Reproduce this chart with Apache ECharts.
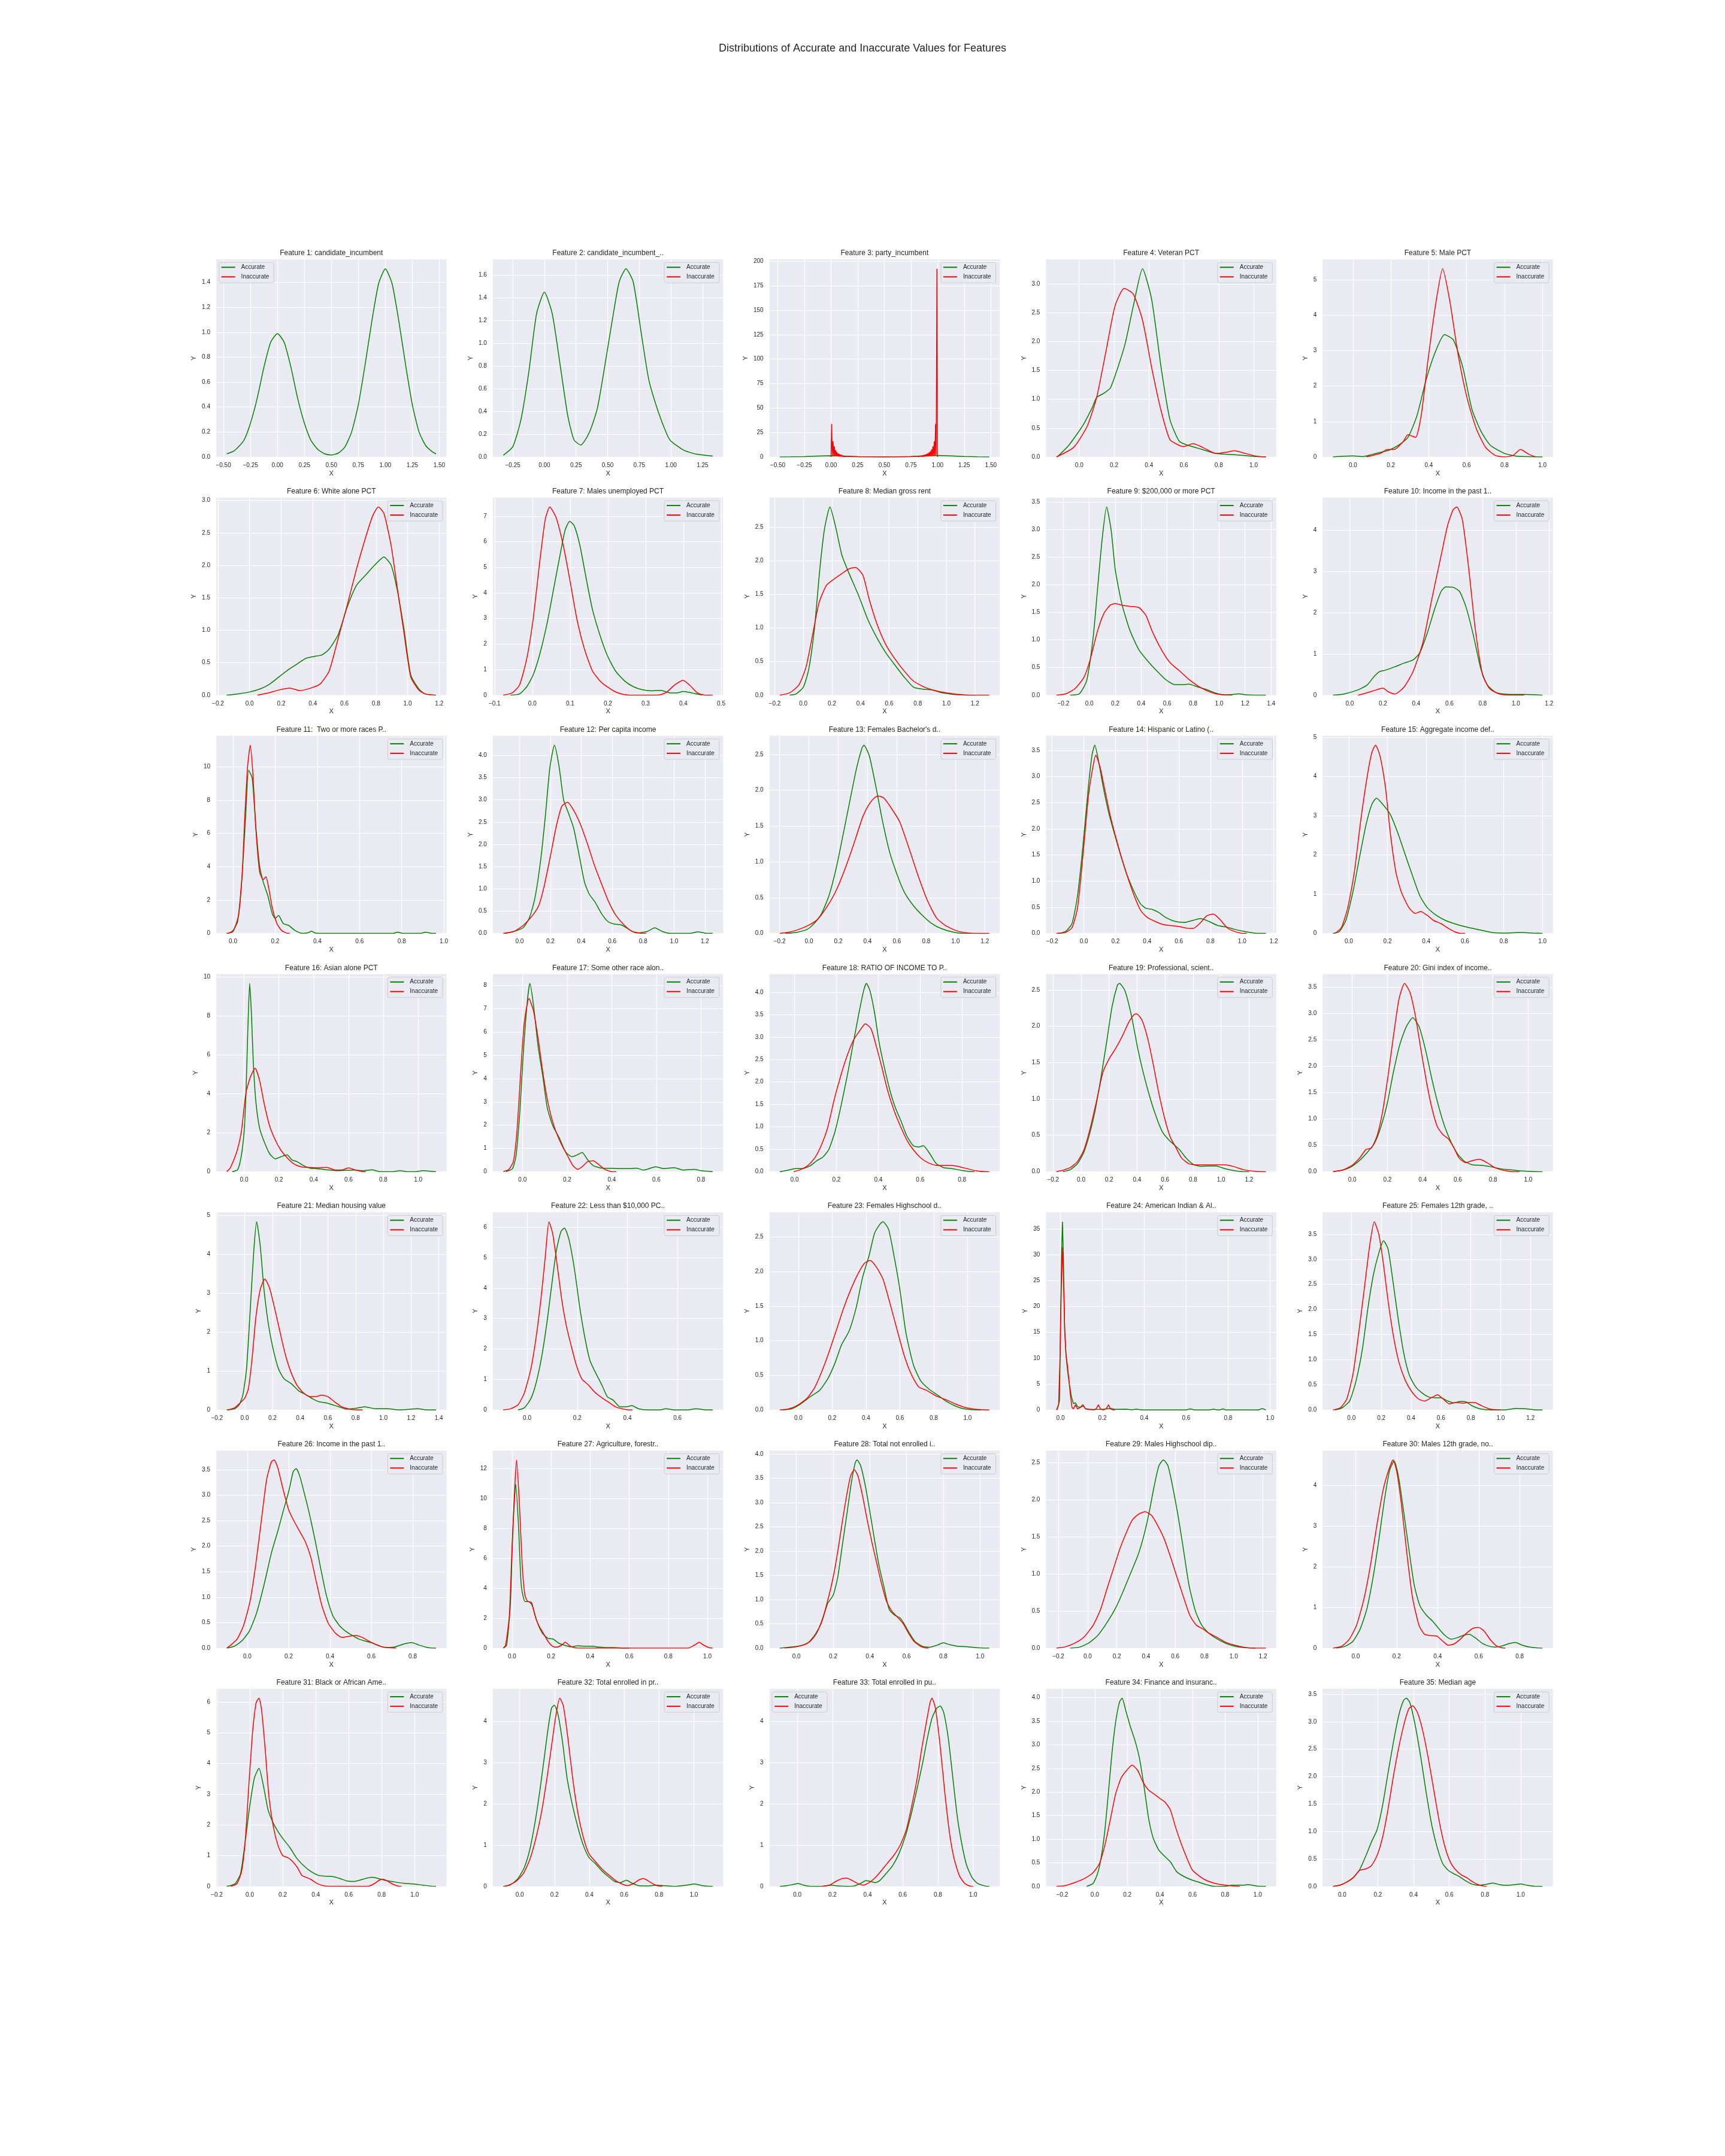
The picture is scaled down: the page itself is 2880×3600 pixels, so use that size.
<!DOCTYPE html>
<html><head><meta charset="utf-8">
<script src="https://cdn.jsdelivr.net/npm/echarts@6/dist/echarts.min.js"></script>
<style>html,body{margin:0;padding:0;background:#fff}#c{width:2880px;height:3600px}</style>
</head><body><div id="c"></div>
<script>
const suptitle = 'Distributions of Accurate and Inaccurate Values for Features';
const titles = [
 'Feature 1: candidate_incumbent','Feature 2: candidate_incumbent_..','Feature 3: party_incumbent','Feature 4: Veteran PCT','Feature 5: Male PCT',
 'Feature 6: White alone PCT','Feature 7: Males unemployed PCT','Feature 8: Median gross rent','Feature 9: $200,000 or more PCT','Feature 10: Income in the past 1..',
 'Feature 11:  Two or more races P..','Feature 12: Per capita income',"Feature 13: Females Bachelor's d..",'Feature 14: Hispanic or Latino (..','Feature 15: Aggregate income def..',
 'Feature 16: Asian alone PCT','Feature 17: Some other race alon..','Feature 18: RATIO OF INCOME TO P..','Feature 19: Professional, scient..','Feature 20: Gini index of income..',
 'Feature 21: Median housing value','Feature 22: Less than $10,000 PC..','Feature 23: Females Highschool d..','Feature 24: American Indian & Al..','Feature 25: Females 12th grade, ..',
 'Feature 26: Income in the past 1..','Feature 27: Agriculture, forestr..','Feature 28: Total not enrolled i..','Feature 29: Males Highschool dip..','Feature 30: Males 12th grade, no..',
 'Feature 31: Black or African Ame..','Feature 32: Total enrolled in pr..','Feature 33: Total enrolled in pu..','Feature 34: Finance and insuranc..','Feature 35: Median age'
];
const seriesNames = ['Accurate', 'Inaccurate'];
const legendUpperLeft = [1, 33];
const sharpPanels = [3, 24];

// ---------- density curves [x, y] ----------
const acc1 = [[-0.47,0.025],[-0.4,0.05],[-0.3125,0.13],[-0.25,0.27],[-0.1875,0.47],[-0.125,0.72],[-0.0625,0.92],[0,0.99],[0.0625,0.92],[0.125,0.72],[0.1875,0.47],[0.25,0.27],[0.3125,0.13],[0.375,0.06],[0.4375,0.025],[0.5,0.016],[0.5625,0.03],[0.625,0.08],[0.6875,0.2],[0.75,0.42],[0.8125,0.74],[0.875,1.09],[0.9375,1.39],[1.0,1.51],[1.0625,1.39],[1.125,1.09],[1.1875,0.74],[1.25,0.42],[1.3125,0.2],[1.375,0.09],[1.4375,0.04],[1.47,0.025]];
const inacc1 = [];
const acc2 = [[-0.325,0.015],[-0.25,0.09],[-0.185,0.33],[-0.123,0.75],[-0.062,1.26],[0,1.45],[0.062,1.26],[0.123,0.82],[0.185,0.36],[0.234,0.15],[0.288,0.105],[0.357,0.22],[0.419,0.43],[0.48,0.82],[0.542,1.24],[0.591,1.54],[0.645,1.656],[0.702,1.54],[0.764,1.1],[0.825,0.68],[0.899,0.4],[0.968,0.2],[1.0,0.14],[1.1,0.06],[1.2,0.025],[1.33,0.008]];
const inacc2 = [];
const acc3 = [[-0.48,0.03],[-0.375,0.1],[-0.25,0.32],[-0.125,0.86],[0,1.2],[0.125,0.86],[0.25,0.32],[0.375,0.08],[0.5,0.02],[0.625,0.08],[0.75,0.42],[0.875,1.09],[1.0,1.51],[1.125,1.09],[1.25,0.42],[1.375,0.09],[1.485,0.025]];
const inacc3 = [[0,0],[0.0056,33.8],[0.0125,1],[0.019,16],[0.025,1],[0.031,11],[0.037,1],[0.044,7],[0.05,0.8],[0.056,5],[0.062,0.6],[0.069,3.6],[0.075,0.5],[0.081,2.8],[0.087,0.4],[0.094,2.2],[0.1,0.4],[0.106,1.8],[0.112,0.3],[0.119,1.4],[0.125,0.3],[0.131,1.1],[0.137,0.3],[0.15,0.8],[0.162,0.25],[0.175,0.6],[0.2,0.3],[0.23,0.3],[0.3,0.15],[0.4,0.08],[0.5,0.06],[0.6,0.1],[0.7,0.2],[0.75,0.35],[0.79,0.6],[0.8,0.15],[0.81,0.8],[0.825,0.2],[0.838,1.1],[0.85,0.25],[0.856,1.6],[0.863,0.3],[0.869,2.0],[0.875,0.35],[0.881,2.4],[0.887,0.4],[0.894,3],[0.9,0.5],[0.906,3.6],[0.912,0.6],[0.919,4.5],[0.925,0.7],[0.931,5.8],[0.937,0.8],[0.944,7.7],[0.95,1],[0.956,11],[0.962,1],[0.969,16],[0.975,1.5],[0.981,33.8],[0.987,2],[0.994,192.5],[1.0,0]];
const acc4 = [[-0.126,0],[-0.06,0.2],[0.02,0.54],[0.074,0.85],[0.1,1.03],[0.14,1.1],[0.18,1.2],[0.26,1.92],[0.31,2.61],[0.363,3.26],[0.416,2.72],[0.47,1.54],[0.52,0.65],[0.574,0.27],[0.626,0.2],[0.705,0.13],[0.784,0.06],[0.89,0.04],[1.0,0.01],[1.07,0]];
const inacc4 = [[-0.13,0],[-0.03,0.17],[0.047,0.54],[0.1,1.03],[0.153,1.82],[0.205,2.61],[0.258,2.92],[0.31,2.82],[0.363,2.37],[0.416,1.54],[0.468,0.82],[0.52,0.3],[0.574,0.2],[0.6,0.18],[0.653,0.23],[0.705,0.17],[0.784,0.06],[0.84,0.08],[0.89,0.11],[0.94,0.07],[1.02,0.01],[1.07,0]];
const acc5 = [[-0.105,0],[-0.05,0.02],[0,0.03],[0.05,0.01],[0.1,0.07],[0.145,0.13],[0.19,0.19],[0.24,0.33],[0.29,0.55],[0.338,1.17],[0.386,2.18],[0.435,2.97],[0.483,3.45],[0.53,3.3],[0.58,2.52],[0.628,1.34],[0.676,0.72],[0.725,0.33],[0.8,0.1],[0.87,0.02],[1.0,0]];
const inacc5 = [[0.07,0],[0.145,0.1],[0.18,0.21],[0.217,0.21],[0.266,0.44],[0.29,0.63],[0.33,0.55],[0.36,1.17],[0.396,2.74],[0.435,4.26],[0.473,5.31],[0.51,4.43],[0.556,2.85],[0.604,1.62],[0.652,0.78],[0.7,0.27],[0.75,0.045],[0.8,0],[0.845,0.045],[0.884,0.21],[0.93,0.07],[0.966,0]];
const acc6 = [[-0.145,0],[-0.075,0.02],[0,0.05],[0.07,0.1],[0.127,0.17],[0.185,0.28],[0.243,0.39],[0.3,0.48],[0.358,0.57],[0.416,0.6],[0.457,0.62],[0.5,0.7],[0.56,0.93],[0.618,1.36],[0.676,1.69],[0.734,1.85],[0.79,2.0],[0.85,2.13],[0.896,2.0],[0.936,1.6],[0.977,1.02],[1.02,0.31],[1.07,0.1],[1.11,0.02],[1.18,0]];
const inacc6 = [[0.05,0],[0.127,0.04],[0.185,0.08],[0.254,0.11],[0.318,0.07],[0.387,0.11],[0.445,0.17],[0.503,0.37],[0.56,0.87],[0.618,1.39],[0.676,1.94],[0.734,2.43],[0.78,2.77],[0.815,2.9],[0.85,2.8],[0.896,2.3],[0.936,1.63],[0.977,0.96],[1.02,0.28],[1.07,0.08],[1.11,0.02],[1.17,0]];
const acc7 = [[-0.058,0],[-0.034,0.05],[-0.015,0.33],[0.002,0.79],[0.019,1.57],[0.039,2.81],[0.058,4.29],[0.075,5.61],[0.087,6.47],[0.099,6.8],[0.111,6.62],[0.126,5.85],[0.143,4.53],[0.159,3.36],[0.179,2.35],[0.198,1.57],[0.22,0.95],[0.244,0.56],[0.268,0.33],[0.292,0.21],[0.316,0.17],[0.34,0.19],[0.365,0.09],[0.382,0.09],[0.4,0.15],[0.425,0.08],[0.45,0.01],[0.47,0]];
const inacc7 = [[-0.077,0],[-0.053,0.09],[-0.034,0.4],[-0.015,1.42],[0.002,2.97],[0.019,5.15],[0.034,6.86],[0.046,7.36],[0.063,6.94],[0.082,5.85],[0.099,4.53],[0.118,2.97],[0.138,1.8],[0.159,0.95],[0.179,0.56],[0.198,0.33],[0.22,0.13],[0.244,0.02],[0.28,0],[0.33,0],[0.353,0.09],[0.377,0.4],[0.399,0.58],[0.418,0.37],[0.437,0.09],[0.454,0.01],[0.4775,0]];
const acc8 = [[-0.096,0],[-0.05,0.02],[0,0.12],[0.038,0.39],[0.077,0.98],[0.115,1.87],[0.147,2.46],[0.186,2.8],[0.224,2.52],[0.27,2.08],[0.32,1.81],[0.385,1.49],[0.45,1.13],[0.513,0.86],[0.577,0.63],[0.64,0.45],[0.705,0.27],[0.77,0.12],[0.833,0.09],[0.897,0.08],[0.96,0.04],[1.06,0.01],[1.15,0],[1.2,0]];
const inacc8 = [[-0.164,0],[-0.096,0.035],[-0.032,0.15],[0.019,0.42],[0.064,0.89],[0.109,1.37],[0.16,1.63],[0.21,1.72],[0.27,1.81],[0.32,1.88],[0.365,1.9],[0.417,1.78],[0.46,1.43],[0.513,1.07],[0.577,0.75],[0.64,0.54],[0.705,0.36],[0.77,0.21],[0.846,0.12],[0.93,0.065],[1.026,0.027],[1.12,0.006],[1.22,0],[1.3,0]];
const acc9 = [[-0.147,0],[-0.077,0.025],[-0.021,0.26],[0.028,1.01],[0.063,1.91],[0.098,2.81],[0.133,3.41],[0.168,2.99],[0.2,2.27],[0.25,1.66],[0.31,1.19],[0.38,0.83],[0.45,0.62],[0.52,0.44],[0.59,0.28],[0.66,0.19],[0.73,0.19],[0.765,0.2],[0.835,0.15],[0.905,0.1],[0.975,0.036],[1.046,0.007],[1.1,0.012],[1.15,0.025],[1.21,0.007],[1.36,0]];
const inacc9 = [[-0.253,0],[-0.18,0.025],[-0.11,0.12],[-0.04,0.33],[0.007,0.65],[0.063,1.16],[0.112,1.48],[0.16,1.63],[0.2,1.66],[0.25,1.63],[0.31,1.61],[0.38,1.59],[0.435,1.45],[0.484,1.16],[0.554,0.83],[0.625,0.58],[0.695,0.44],[0.765,0.29],[0.835,0.17],[0.905,0.08],[0.975,0.025],[1.08,0],[1.1,0]];
const acc10 = [[-0.1,0],[-0.033,0.03],[0.05,0.13],[0.106,0.25],[0.144,0.44],[0.178,0.57],[0.217,0.61],[0.272,0.69],[0.328,0.78],[0.383,0.86],[0.422,1.03],[0.467,1.51],[0.511,2.09],[0.55,2.52],[0.578,2.63],[0.622,2.62],[0.661,2.52],[0.7,2.14],[0.744,1.46],[0.789,0.64],[0.828,0.25],[0.883,0.06],[0.967,0.02],[1.05,0.02],[1.16,0]];
const inacc10 = [[0.05,0],[0.106,0.06],[0.161,0.13],[0.2,0.17],[0.233,0.08],[0.272,0.03],[0.328,0.2],[0.383,0.59],[0.44,1.27],[0.494,2.33],[0.55,3.39],[0.589,4.12],[0.622,4.5],[0.644,4.57],[0.678,4.26],[0.717,3.05],[0.756,1.6],[0.8,0.49],[0.844,0.15],[0.91,0.02],[1.02,0],[1.05,0]];
const acc11 = [[-0.022,0],[0,0.18],[0.022,0.72],[0.043,3.46],[0.06,7.05],[0.074,9.8],[0.091,9.32],[0.108,6.45],[0.126,4.06],[0.143,3.1],[0.165,2.27],[0.186,1.19],[0.2,0.9],[0.216,1.08],[0.238,0.6],[0.264,0.48],[0.294,0.18],[0.33,0],[0.36,0.06],[0.372,0.14],[0.39,0.02],[0.446,0],[0.76,0],[0.78,0.08],[0.805,0],[0.89,0],[0.913,0.08],[0.944,0],[0.963,0]];
const inacc11 = [[-0.03,0],[0,0.12],[0.026,1.08],[0.043,3.46],[0.056,7.05],[0.069,10.0],[0.082,11.3],[0.095,9.44],[0.108,6.33],[0.126,3.7],[0.143,3.23],[0.156,3.4],[0.169,2.75],[0.186,1.55],[0.208,0.6],[0.23,0.18],[0.26,0],[0.27,0]];
const acc12 = [[-0.095,0],[-0.036,0.045],[0.024,0.13],[0.065,0.36],[0.1,0.8],[0.137,1.65],[0.167,2.63],[0.196,3.71],[0.226,4.23],[0.256,3.75],[0.286,2.99],[0.315,2.72],[0.35,2.37],[0.387,1.74],[0.42,1.16],[0.45,0.89],[0.488,0.71],[0.53,0.45],[0.571,0.27],[0.613,0.21],[0.66,0.19],[0.708,0.09],[0.756,0.01],[0.827,0.045],[0.875,0.125],[0.923,0.045],[0.976,0],[1.1,0],[1.155,0.035],[1.214,0],[1.25,0]];
const inacc12 = [[-0.105,0],[-0.036,0.045],[0.024,0.18],[0.083,0.4],[0.125,0.63],[0.16,1.07],[0.2,1.74],[0.238,2.41],[0.274,2.86],[0.31,2.95],[0.35,2.77],[0.393,2.46],[0.44,2.01],[0.482,1.56],[0.53,1.12],[0.577,0.71],[0.625,0.4],[0.68,0.18],[0.726,0.05],[0.8,0],[0.82,0]];
const acc13 = [[-0.162,0],[-0.087,0.014],[-0.012,0.056],[0.037,0.14],[0.087,0.28],[0.137,0.53],[0.187,0.92],[0.237,1.42],[0.28,1.86],[0.325,2.31],[0.362,2.59],[0.375,2.63],[0.412,2.48],[0.456,2.06],[0.5,1.59],[0.55,1.14],[0.6,0.83],[0.65,0.58],[0.712,0.39],[0.775,0.25],[0.837,0.14],[0.9,0.07],[0.994,0.014],[1.087,0],[1.1,0]];
const inacc13 = [[-0.198,0],[-0.131,0.02],[-0.069,0.056],[-0.006,0.11],[0.056,0.19],[0.119,0.36],[0.181,0.58],[0.244,0.89],[0.306,1.25],[0.369,1.64],[0.412,1.81],[0.45,1.9],[0.475,1.92],[0.512,1.89],[0.562,1.75],[0.619,1.56],[0.681,1.2],[0.744,0.81],[0.806,0.47],[0.869,0.22],[0.931,0.11],[1.012,0.033],[1.087,0.006],[1.18,0],[1.23,0]];
const acc14 = [[-0.16,0],[-0.115,0.04],[-0.075,0.19],[-0.04,0.72],[-0.006,1.67],[0.029,2.82],[0.052,3.42],[0.069,3.6],[0.092,3.31],[0.121,2.82],[0.156,2.32],[0.19,1.94],[0.23,1.52],[0.27,1.14],[0.317,0.8],[0.357,0.57],[0.392,0.48],[0.432,0.46],[0.473,0.4],[0.52,0.3],[0.576,0.23],[0.634,0.21],[0.69,0.25],[0.738,0.285],[0.79,0.23],[0.847,0.15],[0.905,0.12],[0.95,0.08],[1.01,0.04],[1.095,0],[1.15,0]];
const inacc14 = [[-0.173,0],[-0.115,0.02],[-0.075,0.11],[-0.04,0.49],[-0.006,1.48],[0.029,2.63],[0.058,3.2],[0.075,3.41],[0.104,3.16],[0.133,2.74],[0.167,2.25],[0.2,1.86],[0.242,1.41],[0.282,1.03],[0.323,0.68],[0.363,0.42],[0.403,0.3],[0.45,0.23],[0.5,0.17],[0.548,0.15],[0.605,0.13],[0.651,0.1],[0.69,0.095],[0.732,0.19],[0.778,0.34],[0.818,0.37],[0.859,0.27],[0.905,0.11],[0.95,0.04],[1.01,0],[1.03,0]];
const acc15 = [[-0.081,0],[-0.048,0.05],[-0.014,0.35],[0.024,1.12],[0.057,1.98],[0.09,2.79],[0.119,3.29],[0.143,3.45],[0.176,3.29],[0.214,3.04],[0.252,2.58],[0.29,2.03],[0.329,1.47],[0.367,0.96],[0.405,0.66],[0.452,0.46],[0.5,0.33],[0.557,0.23],[0.619,0.15],[0.681,0.086],[0.738,0.025],[0.81,0.01],[0.89,0.025],[0.952,0.01],[1.0,0]];
const inacc15 = [[-0.071,0],[-0.038,0.15],[-0.005,0.66],[0.029,1.57],[0.062,2.89],[0.095,4.0],[0.119,4.61],[0.138,4.8],[0.162,4.51],[0.19,3.7],[0.214,2.58],[0.243,1.57],[0.271,1.06],[0.31,0.66],[0.343,0.51],[0.371,0.56],[0.405,0.46],[0.438,0.33],[0.476,0.25],[0.514,0.13],[0.548,0.04],[0.581,0],[0.6,0]];
const acc16 = [[-0.068,0],[-0.037,0.1],[-0.016,0.82],[0,2.04],[0.011,4.08],[0.021,7.14],[0.032,9.68],[0.042,8.15],[0.053,5.6],[0.068,3.57],[0.089,2.24],[0.116,1.53],[0.147,0.92],[0.179,0.66],[0.21,0.76],[0.247,0.87],[0.274,0.61],[0.305,0.51],[0.342,0.31],[0.379,0.18],[0.421,0.15],[0.474,0.1],[0.526,0.05],[0.579,0.07],[0.632,0.08],[0.684,0.05],[0.737,0.1],[0.779,0],[0.86,0],[0.895,0.05],[0.932,0],[0.99,0],[1.026,0.05],[1.095,0],[1.103,0]];
const inacc16 = [[-0.1,0],[-0.079,0.2],[-0.042,1.02],[-0.016,2.04],[0.011,4.08],[0.037,4.89],[0.063,5.32],[0.089,4.69],[0.116,3.47],[0.147,2.34],[0.179,1.63],[0.21,1.12],[0.247,0.71],[0.284,0.41],[0.326,0.25],[0.368,0.22],[0.421,0.2],[0.474,0.22],[0.526,0.08],[0.568,0.1],[0.6,0.2],[0.642,0.08],[0.684,0],[0.7,0]];
const acc17 = [[-0.074,0],[-0.045,0.13],[-0.029,0.68],[-0.012,2.56],[0.004,5.13],[0.021,7.26],[0.033,8.09],[0.049,7.18],[0.07,5.38],[0.091,4.1],[0.111,2.74],[0.136,1.97],[0.165,1.45],[0.193,0.85],[0.222,0.64],[0.247,0.73],[0.267,0.83],[0.292,0.51],[0.317,0.26],[0.358,0.15],[0.4,0.145],[0.44,0.13],[0.481,0.13],[0.51,0.15],[0.543,0.07],[0.597,0.21],[0.634,0.13],[0.679,0.17],[0.72,0.07],[0.77,0.1],[0.8,0.04],[0.852,0]];
const inacc17 = [[-0.086,0],[-0.062,0.09],[-0.041,0.43],[-0.025,1.71],[-0.008,4.27],[0.008,6.41],[0.029,7.44],[0.049,6.92],[0.07,5.73],[0.095,4.02],[0.119,2.74],[0.144,1.88],[0.173,1.2],[0.202,0.68],[0.226,0.26],[0.247,0.1],[0.267,0.21],[0.292,0.43],[0.317,0.47],[0.342,0.3],[0.37,0.09],[0.4,0],[0.42,0]];
const acc18 = [[-0.07,0],[-0.035,0.03],[0.004,0.07],[0.04,0.07],[0.075,0.13],[0.105,0.24],[0.136,0.33],[0.163,0.49],[0.193,0.89],[0.224,1.51],[0.255,2.22],[0.281,2.88],[0.308,3.55],[0.33,4.04],[0.343,4.2],[0.36,4.04],[0.382,3.55],[0.404,2.88],[0.426,2.39],[0.453,1.86],[0.479,1.46],[0.51,1.11],[0.536,0.8],[0.567,0.58],[0.593,0.55],[0.615,0.58],[0.646,0.4],[0.677,0.18],[0.712,0.09],[0.752,0.07],[0.796,0.03],[0.853,0],[0.86,0]];
const inacc18 = [[-0.004,0],[0.026,0.04],[0.062,0.13],[0.097,0.31],[0.127,0.58],[0.158,0.98],[0.189,1.6],[0.22,2.13],[0.25,2.57],[0.281,2.93],[0.312,3.15],[0.338,3.3],[0.365,3.19],[0.391,2.79],[0.418,2.31],[0.444,1.82],[0.475,1.37],[0.505,1.02],[0.536,0.71],[0.567,0.49],[0.602,0.31],[0.637,0.2],[0.677,0.14],[0.712,0.14],[0.752,0.14],[0.787,0.11],[0.822,0.07],[0.866,0.02],[0.92,0],[0.93,0]];
const acc19 = [[-0.13,0],[-0.078,0.027],[-0.026,0.11],[0.02,0.27],[0.065,0.55],[0.104,0.88],[0.143,1.31],[0.182,1.78],[0.221,2.27],[0.26,2.57],[0.274,2.59],[0.313,2.49],[0.358,2.16],[0.404,1.7],[0.443,1.37],[0.489,1.04],[0.534,0.77],[0.58,0.55],[0.625,0.44],[0.671,0.36],[0.704,0.3],[0.749,0.19],[0.801,0.1],[0.853,0.074],[0.912,0.077],[0.964,0.077],[1.029,0.04],[1.094,0.014],[1.16,0],[1.2,0]];
const inacc19 = [[-0.176,0],[-0.13,0.02],[-0.078,0.055],[-0.026,0.14],[0.02,0.3],[0.065,0.6],[0.111,0.98],[0.156,1.37],[0.202,1.56],[0.248,1.7],[0.293,1.86],[0.339,2.05],[0.378,2.16],[0.397,2.17],[0.436,2.08],[0.476,1.83],[0.515,1.48],[0.554,1.09],[0.6,0.71],[0.638,0.47],[0.678,0.33],[0.717,0.19],[0.769,0.11],[0.821,0.093],[0.886,0.093],[0.964,0.093],[1.029,0.093],[1.094,0.068],[1.16,0.027],[1.225,0.008],[1.31,0],[1.32,0]];
const acc20 = [[-0.109,0],[-0.057,0.026],[-0.005,0.094],[0.047,0.23],[0.089,0.38],[0.125,0.53],[0.161,0.83],[0.198,1.28],[0.234,1.89],[0.271,2.42],[0.307,2.75],[0.344,2.92],[0.38,2.75],[0.417,2.3],[0.453,1.75],[0.49,1.25],[0.526,0.85],[0.563,0.55],[0.6,0.33],[0.64,0.19],[0.682,0.13],[0.734,0.12],[0.786,0.094],[0.839,0.057],[0.89,0.038],[0.943,0.019],[0.995,0.008],[1.07,0],[1.081,0]];
const inacc20 = [[-0.109,0],[-0.057,0.03],[-0.005,0.11],[0.042,0.26],[0.078,0.42],[0.109,0.45],[0.141,0.68],[0.172,1.13],[0.203,1.81],[0.234,2.57],[0.266,3.28],[0.297,3.57],[0.328,3.4],[0.359,2.95],[0.391,2.3],[0.422,1.7],[0.453,1.2],[0.484,0.85],[0.516,0.7],[0.547,0.62],[0.578,0.45],[0.609,0.25],[0.646,0.17],[0.682,0.21],[0.724,0.234],[0.766,0.17],[0.807,0.083],[0.854,0.03],[0.917,0],[0.95,0]];
const acc21 = [[-0.13,0],[-0.073,0.03],[-0.04,0.13],[-0.013,0.39],[0.013,1.05],[0.04,2.58],[0.066,4.11],[0.086,4.83],[0.112,4.21],[0.139,3.09],[0.172,2.17],[0.205,1.56],[0.244,1.05],[0.284,0.8],[0.337,0.67],[0.389,0.49],[0.442,0.39],[0.488,0.29],[0.535,0.21],[0.587,0.18],[0.634,0.13],[0.68,0.08],[0.733,0.02],[0.8,0.04],[0.865,0.08],[0.944,0.03],[1.03,0.03],[1.115,0],[1.25,0.03],[1.313,0],[1.38,0]];
const inacc21 = [[-0.125,0],[-0.073,0.056],[-0.033,0.18],[0,0.3],[0.026,0.54],[0.053,1.31],[0.079,2.33],[0.112,3.09],[0.145,3.36],[0.178,3.14],[0.211,2.68],[0.25,2.07],[0.29,1.46],[0.33,1.0],[0.376,0.64],[0.422,0.44],[0.469,0.34],[0.515,0.34],[0.554,0.38],[0.6,0.34],[0.647,0.21],[0.7,0.08],[0.766,0.015],[0.832,0],[0.85,0]];
const acc22 = [[-0.036,0],[-0.011,0.07],[0.015,0.37],[0.036,0.89],[0.058,1.74],[0.08,2.92],[0.098,4.09],[0.116,5.2],[0.135,5.86],[0.149,5.97],[0.167,5.59],[0.189,4.61],[0.211,3.31],[0.233,2.26],[0.251,1.61],[0.273,1.22],[0.298,0.82],[0.32,0.43],[0.342,0.33],[0.371,0.1],[0.396,0.1],[0.418,0.14],[0.444,0.04],[0.48,0],[0.53,0],[0.553,0.04],[0.589,0],[0.64,0],[0.673,0.04],[0.716,0],[0.74,0]];
const inacc22 = [[-0.095,0],[-0.065,0.04],[-0.036,0.17],[-0.011,0.56],[0.015,1.35],[0.036,2.39],[0.055,3.63],[0.073,5.07],[0.087,6.18],[0.102,5.79],[0.12,4.75],[0.138,3.63],[0.156,2.78],[0.175,2.13],[0.196,1.48],[0.218,1.02],[0.244,0.82],[0.269,0.59],[0.298,0.4],[0.327,0.24],[0.353,0.1],[0.378,0.04],[0.407,0],[0.42,0]];
const acc23 = [[-0.092,0],[-0.038,0.017],[0.016,0.09],[0.07,0.19],[0.125,0.28],[0.174,0.45],[0.217,0.68],[0.255,0.94],[0.3,1.14],[0.342,1.48],[0.38,1.92],[0.418,2.23],[0.45,2.55],[0.484,2.69],[0.5,2.72],[0.533,2.61],[0.565,2.23],[0.598,1.77],[0.636,1.11],[0.68,0.65],[0.723,0.42],[0.772,0.3],[0.82,0.22],[0.87,0.13],[0.924,0.06],[0.978,0.017],[1.06,0],[1.08,0]];
const inacc23 = [[-0.109,0],[-0.054,0.017],[0,0.075],[0.054,0.175],[0.098,0.33],[0.136,0.54],[0.179,0.82],[0.223,1.14],[0.266,1.46],[0.31,1.74],[0.353,1.97],[0.391,2.12],[0.424,2.16],[0.462,2.06],[0.5,1.89],[0.538,1.57],[0.582,1.17],[0.625,0.79],[0.668,0.51],[0.712,0.33],[0.76,0.28],[0.815,0.2],[0.87,0.15],[0.924,0.09],[0.978,0.04],[1.043,0.01],[1.114,0],[1.128,0]];
const acc24 = [[-0.016,0],[-0.004,1.8],[0,16],[0.005,29.5],[0.0095,36.4],[0.014,29.5],[0.02,15.3],[0.028,9.9],[0.035,7.2],[0.043,4.9],[0.052,2.6],[0.062,1.2],[0.071,1.4],[0.081,0.65],[0.095,0.46],[0.108,0.77],[0.119,0.27],[0.138,0.15],[0.157,0.08],[0.2,0.1],[0.243,0.27],[0.26,0.1],[0.314,0.15],[0.34,0.02],[0.362,0.15],[0.39,0],[0.6,0],[0.619,0.2],[0.64,0],[0.71,0],[0.73,0.15],[0.75,0],[0.76,0],[0.775,0.2],[0.79,0],[0.945,0],[0.963,0.27],[0.98,0]];
const inacc24 = [[-0.019,0],[-0.009,1.0],[-0.002,10.3],[0.004,23.7],[0.009,31.5],[0.014,25.7],[0.02,16],[0.026,10.7],[0.033,8.7],[0.04,6.0],[0.047,3.0],[0.055,0.46],[0.062,0.2],[0.071,1.0],[0.081,0.2],[0.09,0.35],[0.107,1.0],[0.119,0.2],[0.133,0.08],[0.162,0],[0.171,0.27],[0.181,1.0],[0.19,0.2],[0.205,0],[0.219,0.27],[0.229,1.0],[0.238,0.2],[0.252,0],[0.26,0]];
const acc25 = [[-0.11,0],[-0.061,0.044],[-0.012,0.18],[0.031,0.58],[0.074,1.22],[0.11,2.02],[0.147,2.69],[0.184,3.13],[0.215,3.37],[0.245,3.21],[0.276,2.61],[0.313,1.82],[0.35,1.14],[0.387,0.7],[0.43,0.46],[0.472,0.34],[0.515,0.26],[0.564,0.24],[0.6,0.24],[0.644,0.18],[0.687,0.14],[0.73,0.17],[0.767,0.16],[0.81,0.08],[0.859,0.024],[0.933,0],[1.025,0],[1.104,0.03],[1.166,0.024],[1.24,0],[1.28,0]];
const inacc25 = [[-0.123,0],[-0.074,0.044],[-0.031,0.22],[0.012,0.74],[0.049,1.54],[0.086,2.41],[0.123,3.29],[0.153,3.75],[0.184,3.49],[0.215,2.89],[0.245,2.18],[0.282,1.46],[0.319,0.94],[0.362,0.58],[0.405,0.36],[0.448,0.22],[0.49,0.175],[0.534,0.24],[0.577,0.3],[0.613,0.22],[0.656,0.12],[0.7,0.15],[0.748,0.135],[0.79,0.15],[0.828,0.145],[0.871,0.084],[0.92,0.024],[0.98,0],[1.0,0]];
const acc26 = [[-0.098,0],[-0.062,0.04],[-0.027,0.14],[0.009,0.33],[0.044,0.68],[0.08,1.23],[0.116,1.86],[0.147,2.29],[0.173,2.68],[0.2,3.07],[0.222,3.46],[0.236,3.52],[0.253,3.38],[0.276,3.03],[0.302,2.6],[0.329,2.09],[0.356,1.54],[0.382,1.04],[0.413,0.64],[0.444,0.45],[0.476,0.33],[0.507,0.25],[0.538,0.18],[0.569,0.14],[0.604,0.1],[0.64,0.04],[0.676,0.012],[0.716,0.027],[0.76,0.086],[0.796,0.11],[0.831,0.06],[0.871,0.012],[0.907,0],[0.913,0]];
const inacc26 = [[-0.1,0],[-0.08,0.06],[-0.049,0.18],[-0.018,0.45],[0.013,0.92],[0.04,1.62],[0.067,2.48],[0.093,3.3],[0.116,3.65],[0.129,3.69],[0.147,3.54],[0.173,3.11],[0.2,2.71],[0.227,2.48],[0.253,2.29],[0.28,2.09],[0.307,1.78],[0.333,1.31],[0.36,0.84],[0.391,0.49],[0.427,0.29],[0.458,0.21],[0.489,0.23],[0.524,0.25],[0.556,0.21],[0.587,0.14],[0.618,0.08],[0.649,0.03],[0.684,0.008],[0.72,0]];
const acc27 = [[-0.045,0],[-0.028,0.2],[-0.009,2.86],[0.005,8.18],[0.019,10.97],[0.033,8.18],[0.047,4.19],[0.066,3.12],[0.085,3.12],[0.103,2.86],[0.127,1.8],[0.155,1.0],[0.183,0.66],[0.211,0.6],[0.239,0.33],[0.268,0.2],[0.3,0.09],[0.338,0.16],[0.371,0.13],[0.408,0.13],[0.446,0.07],[0.488,0.04],[0.526,0.04],[0.573,0],[0.6,0]];
const inacc27 = [[-0.045,0],[-0.033,0.2],[-0.014,2.19],[0,6.85],[0.014,10.84],[0.023,12.6],[0.038,9.51],[0.052,5.52],[0.066,3.52],[0.08,3.12],[0.099,3.06],[0.117,2.19],[0.136,1.53],[0.16,1.0],[0.183,0.47],[0.207,0.13],[0.23,0.07],[0.254,0.2],[0.272,0.4],[0.291,0.2],[0.315,0.04],[0.347,0],[0.901,0],[0.934,0.2],[0.958,0.39],[0.981,0.2],[1.009,0.03],[1.027,0]];
const acc28 = [[-0.09,0],[-0.04,0.02],[0.01,0.04],[0.06,0.1],[0.1,0.27],[0.135,0.51],[0.17,0.92],[0.2,1.09],[0.225,1.46],[0.25,2.12],[0.275,2.77],[0.3,3.43],[0.32,3.82],[0.33,3.88],[0.35,3.76],[0.375,3.35],[0.4,2.81],[0.425,2.24],[0.45,1.7],[0.475,1.29],[0.505,0.8],[0.535,0.68],[0.565,0.62],[0.585,0.51],[0.615,0.31],[0.645,0.14],[0.685,0.04],[0.725,0.02],[0.765,0.06],[0.8,0.11],[0.835,0.07],[0.875,0.04],[0.925,0.03],[0.975,0.01],[1.035,0],[1.05,0]];
const inacc28 = [[-0.065,0],[-0.015,0.02],[0.035,0.06],[0.075,0.14],[0.11,0.31],[0.145,0.64],[0.175,1.05],[0.2,1.46],[0.225,1.99],[0.25,2.61],[0.275,3.18],[0.295,3.55],[0.315,3.68],[0.335,3.55],[0.36,3.14],[0.385,2.65],[0.41,2.2],[0.435,1.79],[0.46,1.38],[0.49,0.97],[0.52,0.76],[0.55,0.64],[0.58,0.51],[0.61,0.31],[0.64,0.14],[0.675,0.04],[0.71,0],[0.72,0]];
const acc29 = [[-0.119,0],[-0.056,0.013],[0.006,0.067],[0.069,0.17],[0.131,0.34],[0.194,0.55],[0.244,0.77],[0.294,1.01],[0.344,1.25],[0.381,1.49],[0.419,1.81],[0.456,2.19],[0.488,2.46],[0.519,2.54],[0.55,2.46],[0.581,2.19],[0.619,1.79],[0.656,1.33],[0.694,0.85],[0.738,0.5],[0.781,0.31],[0.831,0.2],[0.881,0.13],[0.944,0.067],[1.006,0.027],[1.069,0.008],[1.144,0],[1.15,0]];
const inacc29 = [[-0.213,0],[-0.15,0.019],[-0.088,0.067],[-0.025,0.15],[0.038,0.31],[0.088,0.52],[0.131,0.79],[0.175,1.06],[0.219,1.33],[0.263,1.55],[0.306,1.73],[0.35,1.81],[0.394,1.84],[0.438,1.79],[0.481,1.65],[0.525,1.47],[0.569,1.22],[0.613,0.95],[0.656,0.69],[0.7,0.44],[0.744,0.31],[0.788,0.26],[0.831,0.2],[0.881,0.15],[0.944,0.08],[1.006,0.04],[1.069,0.013],[1.144,0],[1.22,0]];
const acc30 = [[-0.094,0],[-0.049,0.05],[-0.013,0.17],[0.022,0.47],[0.054,0.95],[0.085,1.74],[0.112,2.62],[0.139,3.6],[0.166,4.38],[0.188,4.6],[0.21,4.19],[0.233,3.4],[0.26,2.42],[0.286,1.54],[0.313,1.05],[0.345,0.81],[0.376,0.66],[0.407,0.47],[0.434,0.32],[0.465,0.22],[0.497,0.26],[0.528,0.32],[0.555,0.34],[0.586,0.245],[0.617,0.12],[0.649,0.05],[0.68,0.025],[0.711,0.05],[0.747,0.11],[0.779,0.14],[0.814,0.07],[0.85,0.025],[0.904,0],[0.911,0]];
const inacc30 = [[-0.11,0],[-0.067,0.05],[-0.031,0.22],[0.004,0.56],[0.04,1.2],[0.072,2.03],[0.103,3.01],[0.134,3.89],[0.161,4.38],[0.183,4.63],[0.201,4.33],[0.224,3.5],[0.251,2.28],[0.277,1.25],[0.309,0.56],[0.336,0.34],[0.367,0.31],[0.398,0.29],[0.425,0.17],[0.452,0.07],[0.479,0.1],[0.51,0.22],[0.541,0.37],[0.573,0.49],[0.6,0.51],[0.626,0.42],[0.658,0.2],[0.689,0.05],[0.725,0],[0.73,0]];
const acc31 = [[-0.14,0],[-0.089,0.09],[-0.056,0.41],[-0.028,1.45],[0,2.62],[0.028,3.53],[0.056,3.85],[0.083,3.27],[0.111,2.49],[0.139,2.1],[0.172,1.78],[0.206,1.52],[0.244,1.26],[0.283,0.93],[0.328,0.67],[0.372,0.48],[0.417,0.36],[0.461,0.33],[0.506,0.32],[0.55,0.25],[0.594,0.17],[0.633,0.16],[0.672,0.21],[0.711,0.27],[0.744,0.3],[0.783,0.25],[0.828,0.19],[0.883,0.14],[0.939,0.1],[0.994,0.08],[1.05,0.04],[1.122,0],[1.13,0]];
const inacc31 = [[-0.117,0],[-0.078,0.09],[-0.05,0.48],[-0.028,1.45],[-0.006,3.27],[0.017,5.02],[0.039,5.99],[0.056,6.13],[0.072,5.73],[0.094,4.43],[0.117,2.88],[0.144,1.91],[0.172,1.32],[0.2,1.0],[0.233,0.93],[0.261,0.8],[0.289,0.61],[0.317,0.35],[0.344,0.29],[0.372,0.22],[0.4,0.12],[0.439,0.03],[0.494,0],[0.717,0],[0.756,0.09],[0.789,0.21],[0.811,0.23],[0.839,0.16],[0.872,0.06],[0.911,0],[0.92,0]];
const acc32 = [[-0.094,0],[-0.052,0.04],[-0.01,0.19],[0.026,0.45],[0.058,0.89],[0.089,1.57],[0.115,2.29],[0.141,3.11],[0.162,3.79],[0.183,4.32],[0.199,4.39],[0.22,4.17],[0.246,3.5],[0.272,2.63],[0.304,1.95],[0.335,1.42],[0.366,0.99],[0.398,0.7],[0.435,0.55],[0.471,0.38],[0.508,0.24],[0.545,0.12],[0.576,0.09],[0.613,0.15],[0.644,0.08],[0.681,0.02],[0.733,0.01],[0.785,0.03],[0.822,0.02],[0.89,0],[0.958,0.03],[1.005,0.06],[1.047,0.02],[1.1,0],[1.108,0]];
const inacc32 = [[-0.087,0],[-0.063,0.03],[-0.021,0.12],[0.021,0.31],[0.058,0.65],[0.094,1.18],[0.126,1.81],[0.157,2.63],[0.183,3.4],[0.209,4.17],[0.23,4.56],[0.251,4.37],[0.277,3.59],[0.304,2.63],[0.335,1.76],[0.366,1.18],[0.398,0.79],[0.435,0.6],[0.471,0.43],[0.508,0.29],[0.545,0.16],[0.581,0.07],[0.618,0.02],[0.654,0.07],[0.686,0.16],[0.712,0.19],[0.743,0.12],[0.775,0.04],[0.812,0],[0.82,0]];
const acc33 = [[-0.099,0],[-0.057,0.02],[-0.026,0.045],[0.005,0.07],[0.036,0.03],[0.078,0],[0.13,0],[0.167,0.02],[0.193,0.03],[0.229,0.01],[0.281,0],[0.323,0.01],[0.359,0.07],[0.39,0.14],[0.417,0.12],[0.443,0.09],[0.469,0.14],[0.505,0.31],[0.542,0.5],[0.578,0.79],[0.615,1.22],[0.651,1.8],[0.682,2.38],[0.714,3.01],[0.74,3.59],[0.766,4.07],[0.792,4.31],[0.813,4.37],[0.833,4.21],[0.859,3.59],[0.885,2.62],[0.911,1.66],[0.938,0.98],[0.964,0.5],[0.995,0.21],[1.026,0.07],[1.068,0.01],[1.092,0]];
const inacc33 = [[0.141,0],[0.182,0.03],[0.219,0.12],[0.255,0.19],[0.281,0.2],[0.313,0.14],[0.349,0.06],[0.375,0.03],[0.401,0.07],[0.438,0.19],[0.474,0.36],[0.51,0.55],[0.547,0.74],[0.583,0.98],[0.62,1.37],[0.651,1.95],[0.682,2.62],[0.708,3.34],[0.734,3.97],[0.755,4.45],[0.766,4.56],[0.786,4.31],[0.813,3.39],[0.839,2.28],[0.865,1.32],[0.891,0.69],[0.922,0.26],[0.953,0.07],[0.99,0],[1.0,0]];
const acc34 = [[-0.05,0],[-0.011,0.06],[0.017,0.27],[0.039,0.61],[0.061,1.16],[0.084,2.0],[0.106,2.84],[0.128,3.48],[0.151,3.9],[0.168,3.99],[0.19,3.73],[0.218,3.39],[0.246,3.1],[0.274,2.72],[0.302,2.13],[0.33,1.45],[0.358,1.03],[0.391,0.78],[0.425,0.65],[0.464,0.52],[0.503,0.31],[0.547,0.21],[0.592,0.14],[0.637,0.09],[0.682,0.04],[0.732,0],[0.8,0],[0.844,0.025],[0.9,0.025],[0.944,0.034],[0.994,0.008],[1.05,0]];
const inacc34 = [[-0.235,0],[-0.179,0.017],[-0.123,0.08],[-0.067,0.16],[-0.011,0.29],[0.028,0.48],[0.061,0.86],[0.095,1.41],[0.128,1.96],[0.162,2.3],[0.196,2.46],[0.229,2.57],[0.263,2.46],[0.296,2.21],[0.33,2.04],[0.363,1.96],[0.397,1.87],[0.43,1.79],[0.464,1.62],[0.497,1.24],[0.531,0.9],[0.564,0.61],[0.598,0.35],[0.637,0.23],[0.676,0.14],[0.721,0.08],[0.771,0.04],[0.827,0.017],[0.883,0],[0.89,0]];
const acc35 = [[-0.051,0],[-0.015,0.02],[0.021,0.07],[0.062,0.16],[0.097,0.3],[0.133,0.56],[0.164,0.81],[0.195,1.03],[0.226,1.47],[0.256,2.05],[0.287,2.63],[0.318,3.13],[0.344,3.39],[0.359,3.43],[0.379,3.35],[0.41,2.92],[0.441,2.34],[0.472,1.68],[0.503,1.1],[0.533,0.7],[0.564,0.41],[0.595,0.29],[0.626,0.23],[0.656,0.18],[0.687,0.11],[0.728,0.04],[0.769,0.02],[0.81,0.04],[0.846,0.06],[0.882,0.03],[0.923,0.02],[0.964,0.03],[1.0,0.044],[1.036,0.02],[1.087,0],[1.122,0]];
const inacc35 = [[-0.051,0],[-0.015,0.02],[0.021,0.07],[0.062,0.16],[0.097,0.29],[0.133,0.32],[0.164,0.38],[0.195,0.56],[0.226,0.89],[0.256,1.39],[0.287,2.01],[0.318,2.55],[0.349,2.99],[0.374,3.24],[0.395,3.29],[0.421,3.17],[0.451,2.84],[0.482,2.34],[0.513,1.76],[0.544,1.18],[0.574,0.74],[0.605,0.45],[0.636,0.3],[0.667,0.21],[0.697,0.16],[0.728,0.09],[0.764,0.03],[0.805,0],[0.81,0]];

// ---------- tick labels ----------
const xt1 = ['−0.50','−0.25','0.00','0.25','0.50','0.75','1.00','1.25','1.50'];
const xt2 = ['−0.25','0.00','0.25','0.50','0.75','1.00','1.25'];
const xt3 = ['−0.50','−0.25','0.00','0.25','0.50','0.75','1.00','1.25','1.50'];
const xt4 = ['0.0','0.2','0.4','0.6','0.8','1.0'];
const xt5 = ['0.0','0.2','0.4','0.6','0.8','1.0'];
const xt6 = ['−0.2','0.0','0.2','0.4','0.6','0.8','1.0','1.2'];
const xt7 = ['−0.1','0.0','0.1','0.2','0.3','0.4','0.5'];
const xt8 = ['−0.2','0.0','0.2','0.4','0.6','0.8','1.0','1.2'];
const xt9 = ['−0.2','0.0','0.2','0.4','0.6','0.8','1.0','1.2','1.4'];
const xt10 = ['0.0','0.2','0.4','0.6','0.8','1.0','1.2'];
const xt11 = ['0.0','0.2','0.4','0.6','0.8','1.0'];
const xt12 = ['0.0','0.2','0.4','0.6','0.8','1.0','1.2'];
const xt13 = ['−0.2','0.0','0.2','0.4','0.6','0.8','1.0','1.2'];
const xt14 = ['−0.2','0.0','0.2','0.4','0.6','0.8','1.0','1.2'];
const xt15 = ['0.0','0.2','0.4','0.6','0.8','1.0'];
const xt16 = ['0.0','0.2','0.4','0.6','0.8','1.0'];
const xt17 = ['0.0','0.2','0.4','0.6','0.8'];
const xt18 = ['0.0','0.2','0.4','0.6','0.8'];
const xt19 = ['−0.2','0.0','0.2','0.4','0.6','0.8','1.0','1.2'];
const xt20 = ['0.0','0.2','0.4','0.6','0.8','1.0'];
const xt21 = ['−0.2','0.0','0.2','0.4','0.6','0.8','1.0','1.2','1.4'];
const xt22 = ['0.0','0.2','0.4','0.6'];
const xt23 = ['0.0','0.2','0.4','0.6','0.8','1.0'];
const xt24 = ['0.0','0.2','0.4','0.6','0.8','1.0'];
const xt25 = ['0.0','0.2','0.4','0.6','0.8','1.0','1.2'];
const xt26 = ['0.0','0.2','0.4','0.6','0.8'];
const xt27 = ['0.0','0.2','0.4','0.6','0.8','1.0'];
const xt28 = ['0.0','0.2','0.4','0.6','0.8','1.0'];
const xt29 = ['−0.2','0.0','0.2','0.4','0.6','0.8','1.0','1.2'];
const xt30 = ['0.0','0.2','0.4','0.6','0.8'];
const xt31 = ['−0.2','0.0','0.2','0.4','0.6','0.8','1.0'];
const xt32 = ['0.0','0.2','0.4','0.6','0.8','1.0'];
const xt33 = ['0.0','0.2','0.4','0.6','0.8','1.0'];
const xt34 = ['−0.2','0.0','0.2','0.4','0.6','0.8','1.0'];
const xt35 = ['0.0','0.2','0.4','0.6','0.8','1.0'];

const yt1 = ['0.0','0.2','0.4','0.6','0.8','1.0','1.2','1.4'];
const yt2 = ['0.0','0.2','0.4','0.6','0.8','1.0','1.2','1.4','1.6'];
const yt3 = ['0','25','50','75','100','125','150','175','200'];
const yt4 = ['0.0','0.5','1.0','1.5','2.0','2.5','3.0'];
const yt5 = ['0','1','2','3','4','5'];
const yt6 = ['0.0','0.5','1.0','1.5','2.0','2.5','3.0'];
const yt7 = ['0','1','2','3','4','5','6','7'];
const yt8 = ['0.0','0.5','1.0','1.5','2.0','2.5'];
const yt9 = ['0.0','0.5','1.0','1.5','2.0','2.5','3.0','3.5'];
const yt10 = ['0','1','2','3','4'];
const yt11 = ['0','2','4','6','8','10'];
const yt12 = ['0.0','0.5','1.0','1.5','2.0','2.5','3.0','3.5','4.0'];
const yt13 = ['0.0','0.5','1.0','1.5','2.0','2.5'];
const yt14 = ['0.0','0.5','1.0','1.5','2.0','2.5','3.0','3.5'];
const yt15 = ['0','1','2','3','4','5'];
const yt16 = ['0','2','4','6','8','10'];
const yt17 = ['0','1','2','3','4','5','6','7','8'];
const yt18 = ['0.0','0.5','1.0','1.5','2.0','2.5','3.0','3.5','4.0'];
const yt19 = ['0.0','0.5','1.0','1.5','2.0','2.5'];
const yt20 = ['0.0','0.5','1.0','1.5','2.0','2.5','3.0','3.5'];
const yt21 = ['0','1','2','3','4','5'];
const yt22 = ['0','1','2','3','4','5','6'];
const yt23 = ['0.0','0.5','1.0','1.5','2.0','2.5'];
const yt24 = ['0','5','10','15','20','25','30','35'];
const yt25 = ['0.0','0.5','1.0','1.5','2.0','2.5','3.0','3.5'];
const yt26 = ['0.0','0.5','1.0','1.5','2.0','2.5','3.0','3.5'];
const yt27 = ['0','2','4','6','8','10','12'];
const yt28 = ['0.0','0.5','1.0','1.5','2.0','2.5','3.0','3.5','4.0'];
const yt29 = ['0.0','0.5','1.0','1.5','2.0','2.5'];
const yt30 = ['0','1','2','3','4'];
const yt31 = ['0','1','2','3','4','5','6'];
const yt32 = ['0','1','2','3','4'];
const yt33 = ['0','1','2','3','4'];
const yt34 = ['0.0','0.5','1.0','1.5','2.0','2.5','3.0','3.5','4.0'];
const yt35 = ['0.0','0.5','1.0','1.5','2.0','2.5','3.0','3.5'];

const accAll = [acc1,acc2,acc3,acc4,acc5,acc6,acc7,acc8,acc9,acc10,acc11,acc12,acc13,acc14,acc15,acc16,acc17,acc18,acc19,acc20,acc21,acc22,acc23,acc24,acc25,acc26,acc27,acc28,acc29,acc30,acc31,acc32,acc33,acc34,acc35];
const inaccAll = [inacc1,inacc2,inacc3,inacc4,inacc5,inacc6,inacc7,inacc8,inacc9,inacc10,inacc11,inacc12,inacc13,inacc14,inacc15,inacc16,inacc17,inacc18,inacc19,inacc20,inacc21,inacc22,inacc23,inacc24,inacc25,inacc26,inacc27,inacc28,inacc29,inacc30,inacc31,inacc32,inacc33,inacc34,inacc35];
const xtAll = [xt1,xt2,xt3,xt4,xt5,xt6,xt7,xt8,xt9,xt10,xt11,xt12,xt13,xt14,xt15,xt16,xt17,xt18,xt19,xt20,xt21,xt22,xt23,xt24,xt25,xt26,xt27,xt28,xt29,xt30,xt31,xt32,xt33,xt34,xt35];
const ytAll = [yt1,yt2,yt3,yt4,yt5,yt6,yt7,yt8,yt9,yt10,yt11,yt12,yt13,yt14,yt15,yt16,yt17,yt18,yt19,yt20,yt21,yt22,yt23,yt24,yt25,yt26,yt27,yt28,yt29,yt30,yt31,yt32,yt33,yt34,yt35];

// ---------- layout & style ----------
const W = 2880;
const FONT = '"Liberation Sans", Arial, Helvetica, sans-serif';
const TXT = '#262626';
const GREEN = '#008000', RED = '#ff0000';
const G_LEFT = 361, G_TOP = 433, G_W = 384.5, G_H = 330, G_DX = 461.8, G_DY = 397.8;

const num = s => parseFloat(s.replace('−', '-'));
const labelFmt = labels => {
  const vals = labels.map(num);
  return v => { for (let i = 0; i < vals.length; i++) if (Math.abs(vals[i] - v) < 1e-9) return labels[i]; return ''; };
};
const labelWidth = s => { let w = 0; for (const ch of s) w += (ch === '.' ? 2.78 : (ch === '−' ? 5.84 : 5.56)); return w; };

const option = {
  animation: false,
  backgroundColor: '#ffffff',
  textStyle: { fontFamily: FONT },
  title: [{
    text: suptitle, left: W / 2, top: 72, padding: 0, textAlign: 'center', textVerticalAlign: 'top',
    textStyle: { fontSize: 18, fontWeight: 'normal', color: TXT, fontFamily: FONT }
  }],
  grid: [], xAxis: [], yAxis: [], legend: [], series: []
};

for (let k = 0; k < 35; k++) {
  const row = Math.floor(k / 5), col = k % 5;
  const left = G_LEFT + col * G_DX, top = G_TOP + row * G_DY;
  const panel = k + 1;
  option.grid.push({ left: left, top: top, width: G_W, height: G_H, show: true, backgroundColor: '#EAEAF2', borderWidth: 0, containLabel: false, outerBoundsMode: 'none' });
  option.title.push({
    text: titles[k], left: left + G_W / 2, top: top - 16.2, padding: 0, textAlign: 'center', textVerticalAlign: 'top',
    textStyle: { fontSize: 12, fontWeight: 'normal', color: TXT, fontFamily: FONT }
  });
  const xv = xtAll[k].map(num), yv = ytAll[k].map(num);
  const maxYW = Math.max(...ytAll[k].map(labelWidth));
  option.xAxis.push({
    type: 'value', gridIndex: k,
    min: v => v.min - 0.05 * (v.max - v.min),
    max: v => v.max + 0.05 * (v.max - v.min),
    axisLine: { show: false }, axisTick: { show: false, customValues: xv },
    axisLabel: { customValues: xv, formatter: labelFmt(xtAll[k]), margin: 9, fontSize: 10, color: TXT, fontFamily: FONT },
    splitLine: { show: true, lineStyle: { color: '#ffffff', width: 1.2 } },
    name: 'X', nameLocation: 'middle', nameGap: 22, nameMoveOverlap: false,
    nameTextStyle: { fontSize: 11, color: TXT, fontFamily: FONT }
  });
  option.yAxis.push({
    type: 'value', gridIndex: k,
    min: 0, max: v => v.max * 1.05,
    axisLine: { show: false }, axisTick: { show: false, customValues: yv },
    axisLabel: { customValues: yv, formatter: labelFmt(ytAll[k]), margin: 10, fontSize: 10, color: TXT, fontFamily: FONT },
    splitLine: { show: true, lineStyle: { color: '#ffffff', width: 1.2 } },
    name: 'Y', nameLocation: 'middle', nameGap: 17.5 + maxYW, nameMoveOverlap: false,
    nameTextStyle: { fontSize: 11, color: TXT, fontFamily: FONT }
  });
  const leg = {
    data: seriesNames, orient: 'vertical', top: top + 5.3,
    icon: 'rect', itemWidth: 23, itemHeight: 2, itemGap: 4,
    padding: [2, 8, 4, 4], backgroundColor: '#EAEAF2', borderColor: '#cccccc', borderWidth: 1, borderRadius: 3,
    textStyle: { fontSize: 10, color: TXT, fontFamily: FONT, lineHeight: 12, padding: [0, 0, 0, 5] },
    selectedMode: false
  };
  if (legendUpperLeft.includes(panel)) leg.left = left + 4.6; else leg.right = W - (left + G_W - 6.5);
  option.legend.push(leg);
  const smooth = sharpPanels.includes(panel) ? false : 0.2;
  option.series.push({
    type: 'line', name: seriesNames[0], xAxisIndex: k, yAxisIndex: k, data: accAll[k],
    symbol: 'none', showSymbol: false, smooth: smooth, silent: true,
    lineStyle: { color: GREEN, width: 1.5 }, itemStyle: { color: GREEN }
  });
  option.series.push({
    type: 'line', name: seriesNames[1], xAxisIndex: k, yAxisIndex: k, data: inaccAll[k],
    symbol: 'none', showSymbol: false, smooth: smooth, silent: true,
    lineStyle: { color: RED, width: 1.5 }, itemStyle: { color: RED }
  });
}

const chart = echarts.init(document.getElementById('c'), null, { renderer: 'canvas', width: 2880, height: 3600 });
chart.setOption(option);
</script>
</body></html>
